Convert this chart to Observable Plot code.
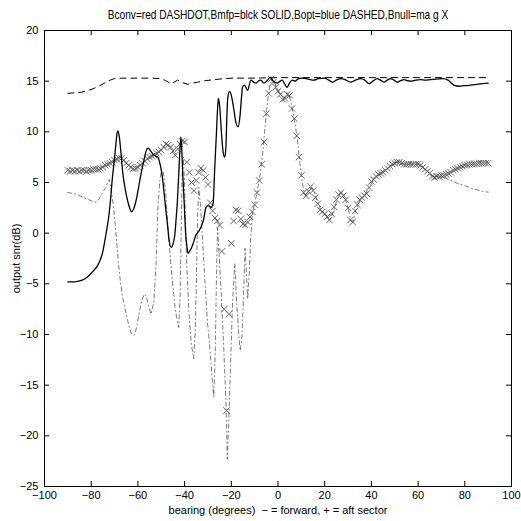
<!DOCTYPE html>
<html><head><meta charset="utf-8">
<script src="https://cdn.jsdelivr.net/npm/d3@7"></script>
<script src="https://cdn.jsdelivr.net/npm/@observablehq/plot@0.6"></script>
<style>
body{margin:0;background:#fff;}
#title{height:22px;width:521px;box-sizing:border-box;padding-left:44px;padding-right:10px;text-align:center;font-family:"Liberation Sans",Arial,sans-serif;font-size:13.5px;line-height:22px;white-space:nowrap;overflow:visible;}
#title span{display:inline-block;transform:scaleX(0.75);transform-origin:center;position:relative;top:4px;}
</style></head><body>
<div id="title"><span>Bconv=red DASHDOT,Bmfp=blck SOLID,Bopt=blue DASHED,Bnull=ma g X</span></div>
<div id="chart"></div>
<script>
const xTicks = [-100,-80,-60,-40,-20,0,20,40,60,80,100];
const yTicks = [-25,-20,-15,-10,-5,0,5,10,15,20];

// Bmfp (solid)
const mfpBearing = [-90,-87,-85,-83,-81,-79,-77.3,-75.9,-75.1,-74.2,-73.3,-72.5,-71.8,-70.9,-70.2,-69.5,-68.9,-68.5,-67.9,-67.2,-66.5,-65.4,-64.3,-63.4,-62.7,-61.8,-60.9,-59.8,-58.7,-57.4,-56.5,-55.7,-54.5,-53.1,-51.4,-50.5,-49.6,-48.8,-48.1,-47.3,-46.7,-45.7,-44.9,-44.2,-43.6,-43.1,-42.4,-41.9,-41.6,-41.2,-40.9,-40.2,-39.5,-38.9,-38.5,-37.6,-36.6,-35.2,-33.9,-33.0,-31.8,-30.9,-30.2,-29.4,-28.8,-27.8,-27.1,-26.4,-25.8,-25.5,-25.0,-24.3,-23.5,-22.8,-22.3,-21.9,-21.5,-20.8,-20.1,-19.1,-18.1,-17.1,-16.3,-15.6,-15.2,-14.4,-13.0,-11.6,-10.4,-9.4,-8.5,-7.4,-6.0,-4.5,-3.2,-2.0,-0.3,0.9,1.8,2.9,3.9,4.9,6.1,7.4,8.4,10.4,12.9,15.4,17.3,19.8,21.8,23.3,25.0,26.9,28.7,31.1,33.2,35.4,37.2,39.0,40.6,42.5,43.9,45.4,46.8,48.3,49.7,51.0,52.5,53.9,55.3,56.8,59.0,61.0,63.0,65.3,67.9,71.0,72.8,74.6,75.8,77.5,79.8,82.5,85.8,90];
const mfpSnr = [-4.8,-4.8,-4.7,-4.55,-4.2,-3.7,-3.2,-2.5,-1.9,-0.8,0.4,1.6,3.1,5.5,7.0,8.6,9.9,10.1,9.4,7.8,6.0,4.3,3.1,2.4,2.1,2.4,3.1,4.4,5.8,7.2,8.1,8.4,8.1,7.7,7.5,6.8,5.7,4.0,2.4,0.8,-0.6,-1.4,-1.0,-0.2,1.5,3.1,6.4,8.6,9.5,8.2,6.4,3.1,-0.2,-1.5,-2.0,-1.7,-1.2,-0.2,0.2,0.6,1.4,2.5,2.7,2.7,2.5,2.9,6.4,9.7,12.6,13.3,12.6,10.2,8.0,7.5,8.5,11.5,13.4,14.0,13.7,12.5,11.0,10.5,11.5,13.5,14.4,14.6,14.1,15.1,14.9,14.8,15.0,15.1,14.8,15.1,15.4,15.0,14.8,15.0,15.1,14.7,14.4,14.8,15.1,15.0,15.2,15.3,15.2,15.1,15.25,15.3,15.1,14.9,15.1,15.25,15.15,14.9,15.1,15.25,15.1,14.75,15.0,15.25,15.1,14.9,15.1,15.25,15.1,14.9,15.05,15.15,15.05,15.0,15.1,15.15,15.1,15.15,15.2,15.25,15.1,14.75,14.55,14.5,14.55,14.6,14.7,14.8];

// Bopt (dashed)
const optBearing = [-90,-87,-84.4,-81,-78.7,-76.4,-74.4,-71.9,-70.1,-67,-59,-54,-50.1,-48.1,-45.9,-44.1,-43,-40.7,-38.7,-36.7,-34.4,-31.2,-27.3,-23.3,-19.3,-9.5,0,20,40,60,80,90];
const optSnr = [13.8,13.85,13.9,14.1,14.3,14.55,14.8,15.1,15.25,15.3,15.3,15.3,15.25,15.05,14.75,14.95,15.1,14.85,14.7,14.8,14.9,15.05,15.15,15.25,15.3,15.3,15.35,15.35,15.35,15.35,15.35,15.35];

// Bconv (dash-dot)
const convBearing = [-90,-87,-85,-83,-81,-79,-77.9,-76.9,-75.9,-74.9,-73.8,-72.8,-72.2,-71.4,-70.4,-69.4,-68.4,-67.4,-66.4,-65.2,-64,-63,-62,-61.3,-60.5,-59.4,-58.3,-57.2,-56.5,-55.8,-54.4,-53.2,-52.6,-52.2,-51.5,-50.7,-49.9,-49.1,-48.1,-47.1,-46.1,-45.1,-44.1,-43.1,-42.5,-41.9,-41.5,-41.1,-40.6,-40.1,-39.6,-39.1,-38.1,-37.1,-36.1,-35.4,-34.9,-34.4,-33.9,-33.1,-32.1,-31.1,-30.2,-29.3,-28.3,-27.5,-26.9,-26.4,-25.9,-25.3,-24.3,-23.3,-22.8,-22.3,-21.7,-21.0,-20.3,-19.5,-18.8,-18.5,-17.8,-16.8,-16.2,-15.5,-14.8,-14.1,-13.6,-13.0,-12.3,-11.7,-10.9,-9.9,-8.9,-7.5,-6.5,-5.5,-4.5,-3.5,-2.5,-1.5,-0.5,0.5,1.5,2.5,3.5,4.5,5.5,6.5,7.5,8.4,9.4,10.4,11.4,12.3,13.3,14.3,15.3,16.3,17.3,18.3,20.3,21.3,22.3,23.3,24.3,25.3,26.3,27.3,28.3,30,31.2,32.2,33.2,35,37,39,41,43,45,47,49,51,53,55,60,62,64,66,68,70,72,74,77,80,83,85,88,90];
const convSnr = [4.0,3.9,3.7,3.5,3.3,3.1,3.05,3.3,3.7,4.1,4.5,5.0,5.3,4.2,2.5,0.0,-2.8,-5.0,-6.5,-7.8,-9.0,-9.8,-10.1,-10.0,-9.2,-7.8,-6.6,-6.0,-6.2,-6.8,-8.0,-6.8,-4.5,-2.9,2.1,5.0,6.3,6.0,4.0,0.5,-2.5,-5.0,-7.3,-8.8,-9.3,-6.0,0.0,5.5,7.5,5.5,1.0,-3.0,-8.0,-11.0,-12.4,-9.5,-4.0,2.0,4.5,2.5,-1.5,-5.5,-8.8,-11.0,-14.0,-16.2,-12.0,-5.0,0.5,-1.8,-6.0,-11.0,-13.8,-16.5,-22.3,-18.0,-13.0,-7.0,-4.1,-3.0,-6.5,-10.0,-11.6,-10.5,-6.5,-1.5,-3.5,-6.5,-4.0,-0.5,2.1,3.0,4.1,6.0,8.0,10.6,12.9,14.6,15.2,14.8,14.2,14.0,13.6,13.2,13.4,13.7,13.0,11.8,10.5,9.0,6.9,5.0,3.8,3.7,4.3,4.5,4.2,3.5,2.9,2.3,1.9,1.6,1.3,1.9,2.6,3.3,3.8,4.0,3.7,2.5,1.2,1.2,2.2,3.2,3.7,4.5,5.3,5.8,6.0,6.4,6.8,7.0,6.9,6.8,6.8,6.5,6.1,5.6,5.6,5.6,5.4,5.2,4.9,4.7,4.4,4.3,4.1,4.05];

// Bnull (x markers), sampled every degree
const nullBearing = [-90,-89,-88,-87,-86,-85,-84,-83,-82,-81,-80,-79,-78,-77,-76,-75,-74,-73,-72,-71,-70,-69,-68,-67,-66,-65,-64,-63,-62,-61,-60,-59,-58,-57,-56,-55,-54,-53,-52,-51,-50,-49,-48,-47,-46,-45,-44,-43,-42,-41,-40,-39,-38,-37,-36,-35,-34,-33,-32,-31,-30,-29,-28,-27,-26,-25,-24,-23,-22,-21,-20,-19,-18,-17,-16,-15,-14,-13,-12,-11,-10,-9,-8,-7,-6,-5,-4,-3,-2,-1,0,1,2,3,4,5,6,7,8,9,10,11,12,13,14,15,16,17,18,19,20,21,22,23,24,25,26,27,28,29,30,31,32,33,34,35,36,37,38,39,40,41,42,43,44,45,46,47,48,49,50,51,52,53,54,55,56,57,58,59,60,61,62,63,64,65,66,67,68,69,70,71,72,73,74,75,76,77,78,79,80,81,82,83,84,85,86,87,88,89,90];
const nullSnr = [6.2,6.1,6.2,6.1,6.2,6.1,6.2,6.2,6.1,6.2,6.2,6.3,6.3,6.3,6.4,6.5,6.7,6.8,6.9,7.0,7.2,7.3,7.4,7.4,7.2,6.9,6.7,6.5,6.35,6.4,6.5,6.7,6.9,7.1,7.35,7.5,7.6,7.7,7.9,8.0,8.2,8.5,8.8,8.7,8.5,8.1,7.7,8.3,8.8,9.1,9.0,7.0,6.0,5.0,4.2,5.2,6.0,6.4,6.2,5.5,4.8,3.0,2.2,1.5,1.2,0.8,-1.8,-7.5,-17.5,-8.0,-1.0,1.2,2.3,2.2,1.4,0.9,0.8,1.1,1.6,2.1,2.8,4.0,5.2,6.8,9.0,11.8,13.8,15.2,14.9,14.4,14.0,13.7,13.2,13.3,13.7,13.6,12.3,11.3,9.6,7.5,5.7,4.0,3.7,4.1,4.6,4.2,3.5,2.9,2.3,2.1,1.9,1.6,1.3,1.9,2.6,3.3,3.8,4.0,3.7,3.3,2.5,1.3,1.1,2.2,2.8,3.3,3.5,3.7,3.9,4.5,5.1,5.3,5.6,5.8,5.9,6.0,6.2,6.4,6.6,6.8,6.9,7.0,7.0,6.9,6.8,6.8,6.8,6.8,6.8,6.8,6.8,6.7,6.5,6.3,6.1,5.9,5.6,5.5,5.6,5.6,5.7,5.7,5.8,5.9,6.0,6.2,6.3,6.4,6.5,6.6,6.7,6.75,6.8,6.8,6.85,6.85,6.9,6.9,6.9,6.9,6.9];

const zip = (bs, vs) => bs.map((b, i) => ({b, v: vs[i]}));
const mfp = zip(mfpBearing, mfpSnr);
const opt = zip(optBearing, optSnr);
const conv = zip(convBearing, convSnr);
const bnull = zip(nullBearing, nullSnr);

const W = 521, H = 499, mT = 8, mB = 35, mL = 44, mR = 10;
const innerH = H - mT - mB, innerW = W - mL - mR;
const tk = 5;

const chart = Plot.plot({
  width: W, height: H,
  marginTop: mT, marginBottom: mB, marginLeft: mL, marginRight: mR,
  style: {fontFamily: "'Liberation Sans', Arial, sans-serif", fontSize: "11px", background: "#fff", color: "#000"},
  x: {domain: [-100, 100]},
  y: {domain: [-25, 20]},
  marks: [
    Plot.axisX({ticks: xTicks, tickSize: 0, tickPadding: 5, label: "bearing (degrees)  − = forward, + = aft sector", labelAnchor: "center", labelOffset: 27, labelArrow: "none"}),
    Plot.axisY({ticks: yTicks, tickSize: 0, tickPadding: 6, label: "output snr(dB)", labelAnchor: "center", labelOffset: 32, labelArrow: "none"}),
    Plot.tickX(xTicks, {x: d => d, insetTop: innerH - tk, stroke: "#000"}),
    Plot.tickX(xTicks, {x: d => d, insetBottom: innerH - tk, stroke: "#000"}),
    Plot.tickY(yTicks, {y: d => d, insetRight: innerW - tk, stroke: "#000"}),
    Plot.tickY(yTicks, {y: d => d, insetLeft: innerW - tk, stroke: "#000"}),
    Plot.line(conv, {x: "b", y: "v", stroke: "#444", strokeWidth: 0.7, strokeDasharray: "4,3,1,3"}),
    Plot.line(opt, {x: "b", y: "v", stroke: "#000", strokeWidth: 1, strokeDasharray: "6,5"}),
    Plot.dot(bnull, {x: "b", y: "v", symbol: "times", r: 3, stroke: "#555", strokeWidth: 0.9}),
    Plot.line(mfp, {x: "b", y: "v", stroke: "#000", strokeWidth: 1.3, curve: "monotone-x"}),
    Plot.frame({stroke: "#000"})
  ]
});
document.getElementById("chart").appendChild(chart);
</script>
</body></html>
